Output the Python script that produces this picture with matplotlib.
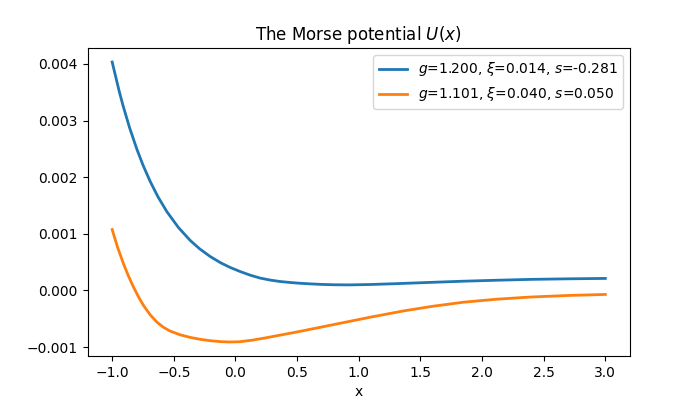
import numpy as np
import matplotlib
matplotlib.use("Agg")
import matplotlib.pyplot as plt

# values (y in units of 1e-3)
x_a = [-1.000, -0.943, -0.913, -0.860, -0.800, -0.750, -0.692, -0.629, -0.556,
       -0.462, -0.367, -0.290, -0.205, -0.120, -0.043, 0.040, 0.119, 0.200,
       0.281, 0.360, 0.444, 0.520, 0.606, 0.700, 0.800, 0.930, 1.100, 1.309,
       1.580, 1.849, 2.120, 2.390, 2.700, 3.000]
u_a = [4.035, 3.519, 3.274, 2.883, 2.497, 2.214, 1.927, 1.656, 1.390,
       1.110, 0.883, 0.734, 0.599, 0.488, 0.406, 0.332, 0.270, 0.218,
       0.183, 0.158, 0.140, 0.127, 0.116, 0.106, 0.100, 0.098, 0.105, 0.120,
       0.142, 0.163, 0.180, 0.195, 0.205, 0.212]

x_b = [-1.000, -0.955, -0.908, -0.868, -0.827, -0.786, -0.746, -0.690, -0.637,
       -0.585, -0.530, -0.450, -0.367, -0.285, -0.205, -0.124, -0.050, 0.030,
       0.133, 0.240, 0.349, 0.460, 0.565, 0.720, 0.890, 1.100, 1.363, 1.600,
       1.849, 2.120, 2.390, 2.700, 3.000]
u_b = [1.075, 0.755, 0.470, 0.255, 0.060, -0.115, -0.265, -0.435, -0.560,
       -0.650, -0.718, -0.783, -0.830, -0.864, -0.888, -0.904, -0.911, -0.907,
       -0.880, -0.840, -0.795, -0.750, -0.705, -0.637, -0.562, -0.470, -0.362, -0.280,
       -0.208, -0.155, -0.117, -0.089, -0.071]

labels = [r"$g$=1.200, $\xi$=0.014, $s$=-0.281",
          r"$g$=1.101, $\xi$=0.040, $s$=0.050"]

fig, ax = plt.subplots(figsize=(7, 4), dpi=100)
ax.plot(x_a, np.array(u_a) * 1e-3, lw=2, label=labels[0])
ax.plot(x_b, np.array(u_b) * 1e-3, lw=2, label=labels[1])
ax.set_title("The Morse potential $U(x)$")
ax.set_xlabel("x")
ax.legend()
fig.savefig("out.png")
